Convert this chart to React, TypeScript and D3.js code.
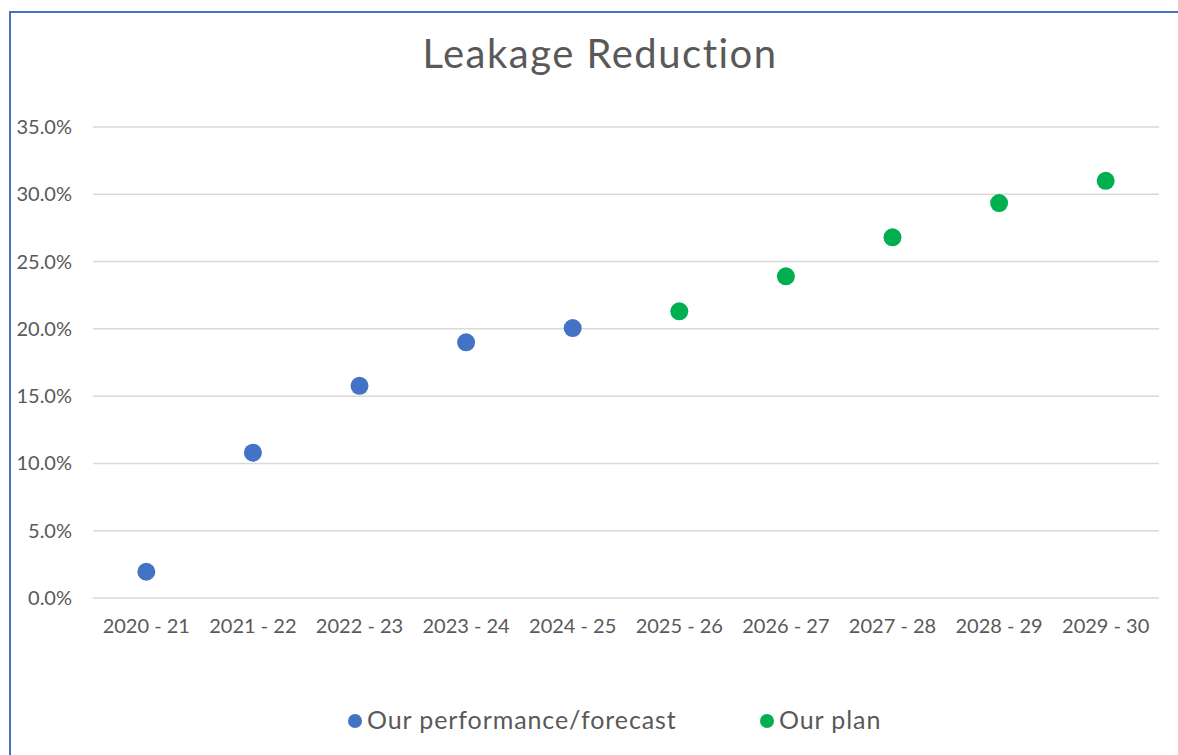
import React, { useRef, useEffect } from "react";
import * as d3 from "d3";

const categories = [
  "2020 - 21",
  "2021 - 22",
  "2022 - 23",
  "2023 - 24",
  "2024 - 25",
  "2025 - 26",
  "2026 - 27",
  "2027 - 28",
  "2028 - 29",
  "2029 - 30",
];

// Our performance/forecast (first five years)
const performance = [
  { year: "2020 - 21", value: 0.0195 },
  { year: "2021 - 22", value: 0.108 },
  { year: "2022 - 23", value: 0.1577 },
  { year: "2023 - 24", value: 0.19 },
  { year: "2024 - 25", value: 0.2006 },
];

// Our plan (last five years)
const plan = [
  { year: "2025 - 26", value: 0.213 },
  { year: "2026 - 27", value: 0.239 },
  { year: "2027 - 28", value: 0.268 },
  { year: "2028 - 29", value: 0.2935 },
  { year: "2029 - 30", value: 0.31 },
];

const yTicks = [0, 0.05, 0.1, 0.15, 0.2, 0.25, 0.3, 0.35];

const legendItems = [
  { label: "Our performance/forecast", color: "#4472C4" },
  { label: "Our plan", color: "#00B050" },
];

const App = () => {
  const svgRef = useRef<SVGSVGElement>(null);

  useEffect(() => {
    const svg = d3.select(svgRef.current);
    svg.selectAll("*").remove();

    const width = 1178;
    const height = 755;
    const margin = { top: 127, right: 19, bottom: 157, left: 93 };
    const font = "Lato, 'DejaVu Sans', sans-serif";
    const textColor = "#595959";

    // outer chart border (only the top and left edges are visible)
    svg
      .append("rect")
      .attr("x", 10)
      .attr("y", 12)
      .attr("width", 1300)
      .attr("height", 900)
      .attr("fill", "white")
      .attr("stroke", "#4472C4")
      .attr("stroke-width", 2);

    const x = d3
      .scaleBand()
      .domain(categories)
      .range([margin.left, width - margin.right]);

    const y = d3
      .scaleLinear()
      .domain([0, 0.35])
      .range([height - margin.bottom, margin.top]);

    // Title
    svg
      .append("text")
      .attr("x", 600)
      .attr("y", 68)
      .attr("text-anchor", "middle")
      .attr("font-family", font)
      .attr("font-size", 40)
      .attr("letter-spacing", 1.5)
      .attr("fill", textColor)
      .text("Leakage Reduction");

    // Gridlines
    svg
      .append("g")
      .selectAll("line")
      .data(yTicks)
      .join("line")
      .attr("x1", margin.left)
      .attr("x2", width - margin.right)
      .attr("y1", (d) => y(d))
      .attr("y2", (d) => y(d))
      .attr("stroke", "#D9D9D9")
      .attr("stroke-width", 1.5);

    // Y labels
    svg
      .append("g")
      .selectAll("text")
      .data(yTicks)
      .join("text")
      .attr("x", 72)
      .attr("y", (d) => y(d))
      .attr("dy", "0.35em")
      .attr("text-anchor", "end")
      .attr("font-family", font)
      .attr("font-size", 20)
      .attr("fill", textColor)
      .text((d) => d3.format(".1%")(d));

    // X labels
    svg
      .append("g")
      .selectAll("text")
      .data(categories)
      .join("text")
      .attr("x", (d) => x(d)! + x.bandwidth() / 2)
      .attr("y", 633)
      .attr("text-anchor", "middle")
      .attr("font-family", font)
      .attr("font-size", 20)
      .attr("fill", textColor)
      .text((d) => d);

    // Points
    const series = [
      { data: performance, color: legendItems[0].color },
      { data: plan, color: legendItems[1].color },
    ];
    series.forEach((s) => {
      svg
        .append("g")
        .selectAll("circle")
        .data(s.data)
        .join("circle")
        .attr("cx", (d) => x(d.year)! + x.bandwidth() / 2)
        .attr("cy", (d) => y(d.value))
        .attr("r", 9)
        .attr("fill", s.color);
    });

    // Legend
    const legendX = [355, 767];
    const legend = svg
      .append("g")
      .selectAll("g")
      .data(legendItems)
      .join("g")
      .attr("transform", (d, i) => `translate(${legendX[i]}, 721)`);

    legend
      .append("circle")
      .attr("r", 7)
      .attr("fill", (d) => d.color);

    legend
      .append("text")
      .attr("x", 12)
      .attr("y", 8)
      .attr("font-family", font)
      .attr("font-size", 25)
      .attr("letter-spacing", 0.9)
      .attr("fill", textColor)
      .text((d) => d.label);
  }, []);

  return (
    <svg
      ref={svgRef}
      width="1178"
      height="755"
      style={{ position: "absolute", left: 0, top: 0 }}
    />
  );
};

export default App;
